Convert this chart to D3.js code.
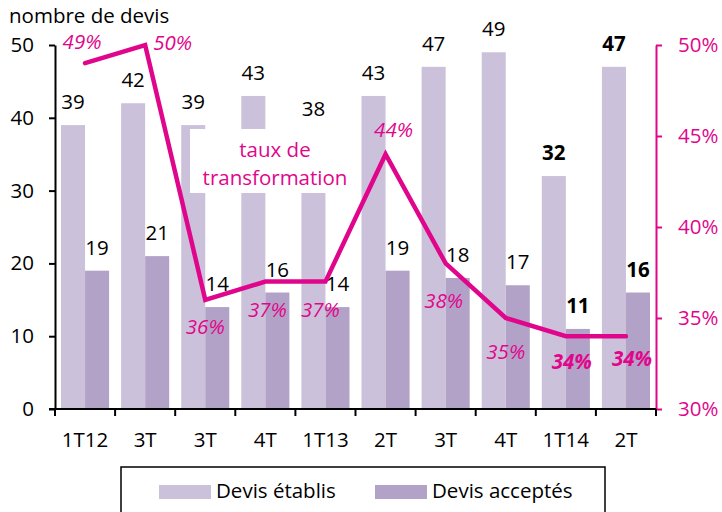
<!DOCTYPE html>
<html>
<head>
<meta charset="utf-8">
<script src="https://cdn.jsdelivr.net/npm/d3@7"></script>
<style>
  body { margin: 0; background: #fff; }
  text { font-family: "Open Sans", sans-serif; }
</style>
</head>
<body>
<svg id="chart"></svg>
<script>
const categories = ["1T12", "3T", "3T", "4T", "1T13", "2T", "3T", "4T", "1T14", "2T"];
const devisEtablis = [39, 42, 39, 43, 38, 43, 47, 49, 32, 47];
const devisAcceptes = [19, 21, 14, 16, 14, 19, 18, 17, 11, 16];
const tauxTransformation = [0.49, 0.50, 0.36, 0.37, 0.37, 0.44, 0.38, 0.35, 0.34, 0.34];
const leftTicks = [0, 10, 20, 30, 40, 50];
const rightTicks = [0.30, 0.35, 0.40, 0.45, 0.50];
const seriesNames = ["Devis établis", "Devis acceptés"];

const width = 722;
const height = 512;
const pink = "#e0068c";
const colors = ["#ccc1da", "#b3a2c7"];
const plot = { left: 55, right: 656, top: 45, bottom: 409 };
const fontSize = "20.5px";

// the latest quarters are in bold
const bold = i => i >= 8;

const svg = d3.select("#chart").attr("width", width).attr("height", height);

const x0 = d3
  .scaleBand()
  .domain(d3.range(categories.length))
  .range([plot.left, plot.right])
  .padding(0);

const x1 = d3
  .scaleBand()
  .domain([0, 1])
  .range([0, x0.bandwidth()])
  .paddingInner(0)
  .paddingOuter(0.25);

const yLeft = d3.scaleLinear().domain([0, 50]).range([plot.bottom, plot.top]);
const yRight = d3.scaleLinear().domain([0.3, 0.5]).range([plot.bottom, plot.top]);

const series = [devisEtablis, devisAcceptes];

// bars
const groups = svg
  .append("g")
  .attr("class", "bars")
  .selectAll("g")
  .data(categories.map((c, i) => i))
  .enter()
  .append("g")
  .attr("transform", i => "translate(" + x0(i) + ",0)");

groups
  .selectAll("rect")
  .data(i => series.map((s, k) => ({ i, k, value: s[i] })))
  .enter()
  .append("rect")
  .attr("x", d => x1(d.k))
  .attr("width", x1.bandwidth())
  .attr("y", d => yLeft(d.value))
  .attr("height", d => plot.bottom - yLeft(d.value))
  .attr("fill", d => colors[d.k]);

// text box for the line, sits on top of the bars
svg
  .append("rect")
  .attr("x", 190)
  .attr("y", 129)
  .attr("width", 170)
  .attr("height", 64)
  .attr("fill", "#fff");

svg
  .append("text")
  .attr("x", 275)
  .attr("y", 157)
  .attr("text-anchor", "middle")
  .attr("font-size", fontSize)
  .attr("fill", pink)
  .selectAll("tspan")
  .data(["taux de", "transformation"])
  .enter()
  .append("tspan")
  .attr("x", 275)
  .attr("dy", (d, i) => (i ? 28 : 0))
  .text(d => d);

// bar value labels
groups
  .selectAll("text")
  .data(i => series.map((s, k) => ({ i, k, value: s[i] })))
  .enter()
  .append("text")
  .attr("x", d => x1(d.k) + x1.bandwidth() / 2)
  .attr("y", d => yLeft(d.value) - 16)
  .attr("text-anchor", "middle")
  .attr("font-size", fontSize)
  .attr("font-weight", d => (bold(d.i) ? "bold" : "normal"))
  .attr("fill", "#000")
  .text(d => d.value);

// axes
const leftAxis = svg
  .append("g")
  .attr("transform", "translate(" + plot.left + ",0)")
  .call(
    d3
      .axisLeft(yLeft)
      .tickValues(leftTicks)
      .tickSize(6)
      .tickSizeOuter(0)
      .tickPadding(15)
  );
leftAxis.selectAll("path, line").attr("stroke", "#000").attr("stroke-width", 2);
leftAxis
  .selectAll("text")
  .attr("font-size", fontSize)
  .attr("fill", "#000")
  .style("font-family", '"Open Sans", sans-serif');

const rightAxis = svg
  .append("g")
  .attr("transform", "translate(" + plot.right + ",0)")
  .call(
    d3
      .axisRight(yRight)
      .tickValues(rightTicks)
      .tickFormat(d3.format(".0%"))
      .tickSize(6)
      .tickSizeOuter(0)
      .tickPadding(16)
  );
rightAxis.selectAll("path, line").attr("stroke", pink).attr("stroke-width", 2);
rightAxis
  .selectAll("text")
  .attr("font-size", fontSize)
  .attr("fill", pink)
  .style("font-family", '"Open Sans", sans-serif');

const bottom = svg.append("g").attr("class", "x-axis");
bottom
  .append("line")
  .attr("x1", plot.left - 6)
  .attr("x2", plot.right)
  .attr("y1", plot.bottom)
  .attr("y2", plot.bottom)
  .attr("stroke", "#000")
  .attr("stroke-width", 2);
bottom
  .selectAll("line.tick")
  .data(d3.range(categories.length + 1))
  .enter()
  .append("line")
  .attr("class", "tick")
  .attr("x1", i => plot.left + i * x0.step())
  .attr("x2", i => plot.left + i * x0.step())
  .attr("y1", plot.bottom)
  .attr("y2", plot.bottom + 7)
  .attr("stroke", "#000")
  .attr("stroke-width", 2);
bottom
  .selectAll("text")
  .data(categories)
  .enter()
  .append("text")
  .attr("x", (d, i) => x0(i) + x0.bandwidth() / 2)
  .attr("y", 447)
  .attr("text-anchor", "middle")
  .attr("font-size", fontSize)
  .attr("fill", "#000")
  .text(d => d);

svg
  .append("text")
  .attr("x", 9)
  .attr("y", 23)
  .attr("font-size", "20.5px")
  .attr("fill", "#000")
  .text("nombre de devis");

// conversion rate line
const cx = i => x0(i) + x0.bandwidth() / 2;
const line = d3
  .line()
  .x((d, i) => cx(i))
  .y(d => yRight(d));

svg
  .append("path")
  .datum(tauxTransformation)
  .attr("d", line)
  .attr("fill", "none")
  .attr("stroke", pink)
  .attr("stroke-width", 4.5)
  .attr("stroke-linejoin", "miter")
  .attr("stroke-linecap", "round");

// where each percentage sits relative to its point
const pctNudge = [
  [-3, -14, "middle"],
  [8, 5, "start"],
  [0, 34, "middle"],
  [2, 35, "middle"],
  [-5, 35, "middle"],
  [8, -17, "middle"],
  [-2, 45, "middle"],
  [0, 41, "middle"],
  [6, 33, "middle"],
  [6, 30, "middle"]
];

svg
  .append("g")
  .attr("class", "pct-labels")
  .selectAll("text")
  .data(tauxTransformation)
  .enter()
  .append("text")
  .attr("x", (d, i) => cx(i) + pctNudge[i][0])
  .attr("y", (d, i) => yRight(d) + pctNudge[i][1])
  .attr("text-anchor", (d, i) => pctNudge[i][2])
  .attr("font-size", fontSize)
  .attr("font-style", "italic")
  .attr("font-weight", (d, i) => (bold(i) ? "bold" : "normal"))
  .attr("fill", pink)
  .text(d => d3.format(".0%")(d));

// legend
const legend = svg.append("g").attr("class", "legend");
legend
  .append("rect")
  .attr("x", 121)
  .attr("y", 467)
  .attr("width", 484)
  .attr("height", 60)
  .attr("fill", "#fff")
  .attr("stroke", "#000")
  .attr("stroke-width", 1.5);

const items = legend
  .selectAll("g")
  .data(seriesNames)
  .enter()
  .append("g")
  .attr("transform", (d, i) => "translate(" + (159 + i * 216) + ",0)");

items
  .append("rect")
  .attr("x", 0)
  .attr("y", 485)
  .attr("width", 52)
  .attr("height", 14)
  .attr("fill", (d, i) => colors[i]);

items
  .append("text")
  .attr("x", 57)
  .attr("y", 498)
  .attr("font-size", fontSize)
  .attr("fill", "#000")
  .text(d => d);
</script>
</body>
</html>
